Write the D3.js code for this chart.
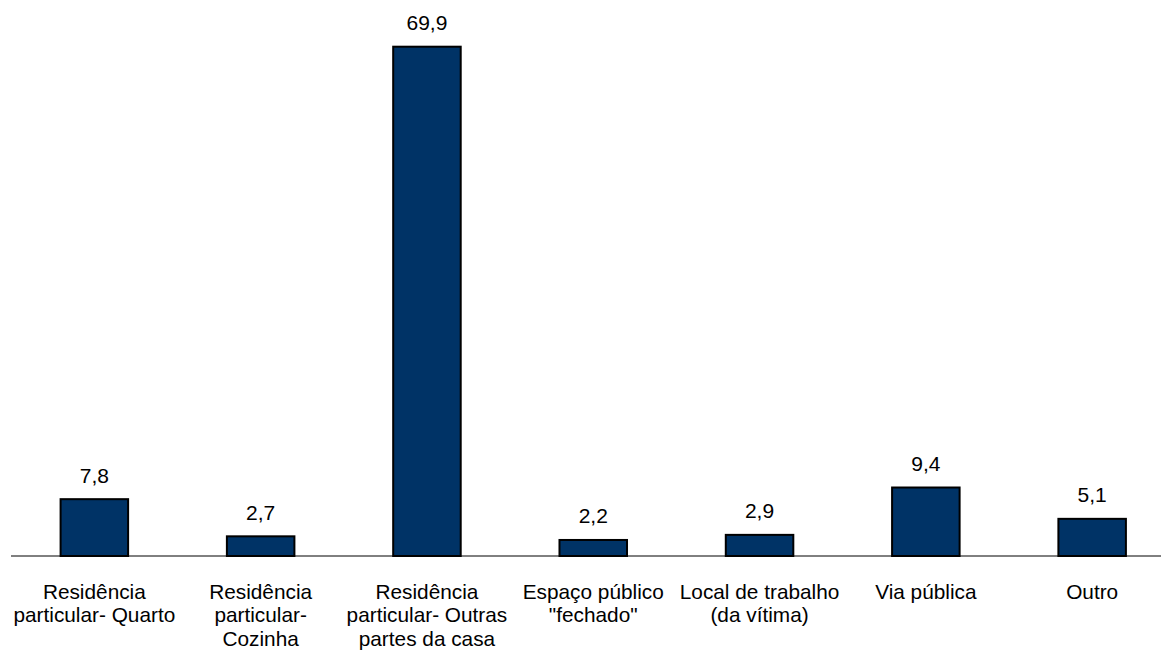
<!DOCTYPE html>
<html>
<head>
<meta charset="utf-8">
<script src="https://cdn.jsdelivr.net/npm/d3@7"></script>
<style>
  html, body { margin: 0; padding: 0; background: #fff; }
  svg { display: block; font-family: "Liberation Sans", Arial, sans-serif; }
</style>
</head>
<body>
<svg id="chart" width="1161" height="650"></svg>
<script>
const categories = [
  "Residência\nparticular- Quarto",
  "Residência\nparticular-\nCozinha",
  "Residência\nparticular- Outras\npartes da casa",
  "Espaço público\n\"fechado\"",
  "Local de trabalho\n(da vítima)",
  "Via pública",
  "Outro"
];
const values = [7.8, 2.7, 69.9, 2.2, 2.9, 9.4, 5.1];
const valueLabels = ["7,8", "2,7", "69,9", "2,2", "2,9", "9,4", "5,1"];

const svg = d3.select("#chart");
const baseline = 556;

const x = d3.scaleBand()
  .domain(categories)
  .range([11.2, 11.2 + 7 * 166.3])
  .paddingInner(0.594)
  .paddingOuter(0.297);

const y = d3.scaleLinear()
  .domain([0, 69.9])
  .range([baseline, 46.7]);

const data = categories.map((c, i) => ({ c, v: values[i], l: valueLabels[i] }));

// bars
svg.append("g").selectAll("rect")
  .data(data)
  .enter().append("rect")
  .attr("x", d => x(d.c))
  .attr("y", d => y(d.v))
  .attr("width", x.bandwidth())
  .attr("height", d => baseline - y(d.v))
  .attr("fill", "#003366")
  .attr("stroke", "#000")
  .attr("stroke-width", 2);

// axis line
svg.append("line")
  .attr("x1", 11).attr("x2", 1161)
  .attr("y1", baseline).attr("y2", baseline)
  .attr("stroke", "#000").attr("stroke-width", 1);

// value labels
svg.append("g").selectAll("text")
  .data(data)
  .enter().append("text")
  .attr("x", d => x(d.c) + x.bandwidth() / 2)
  .attr("y", d => y(d.v) - 16.5)
  .attr("text-anchor", "middle")
  .attr("font-size", 21)
  .attr("fill", "#000")
  .text(d => d.l);

// category labels
const lab = svg.append("g").selectAll("text")
  .data(data)
  .enter().append("text")
  .attr("x", d => x(d.c) + x.bandwidth() / 2)
  .attr("y", 598.5)
  .attr("text-anchor", "middle")
  .attr("font-size", 20.8)
  .attr("fill", "#000");
lab.each(function(d) {
  const t = d3.select(this);
  d.c.split("\n").forEach((line, i) => {
    t.append("tspan")
      .attr("x", x(d.c) + x.bandwidth() / 2)
      .attr("y", 598.5 + i * 23.8)
      .text(line);
  });
});
</script>
</body>
</html>
